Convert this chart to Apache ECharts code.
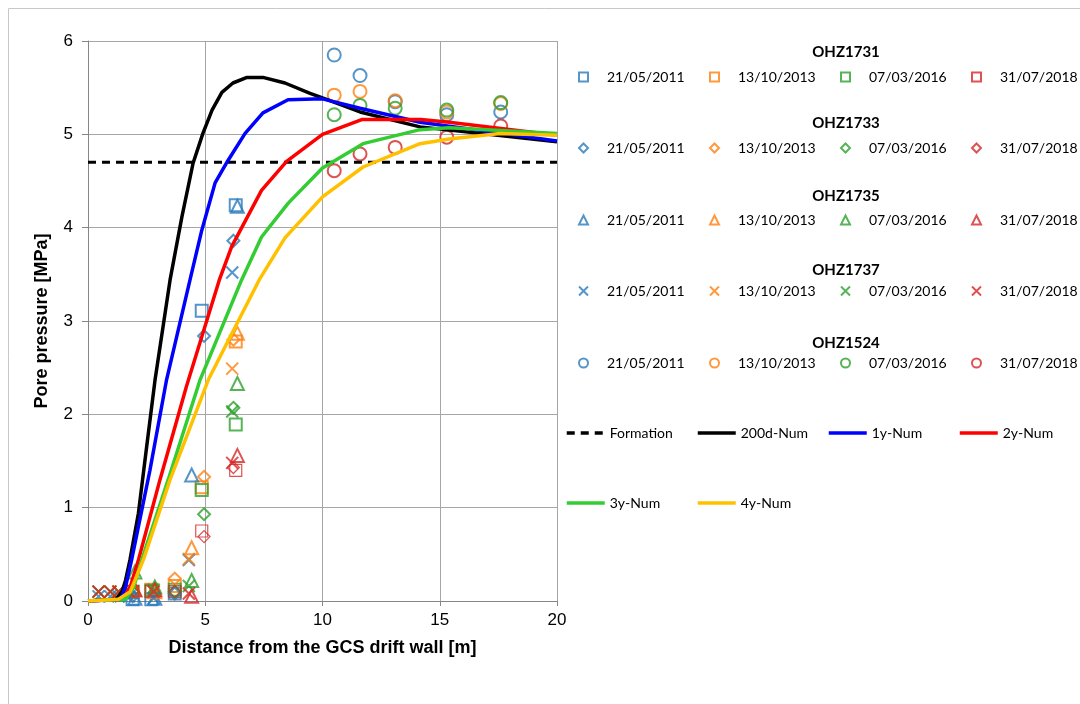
<!DOCTYPE html>
<html>
<head>
<meta charset="utf-8">
<script src="https://cdn.jsdelivr.net/npm/echarts@6/dist/echarts.min.js"></script>
<style>
  html, body { margin: 0; padding: 0; background: #ffffff; }
  #chart { width: 1080px; height: 704px; }
</style>
</head>
<body>
<div id="chart"></div>
<script>
// ---- Measurement dates and boreholes ----
const dates = ['21/05/2011', '13/10/2013', '07/03/2016', '31/07/2018'];
const boreholeNames = ['OHZ1731', 'OHZ1733', 'OHZ1735', 'OHZ1737', 'OHZ1524'];

// ---- OHZ1731 (squares): distance [m] and pore pressure [MPa] per date ----
const ohz1731Dist = [1.9, 2.7, 3.7, 4.85, 6.3];
const ohz1731P2011 = [0.02, 0.02, 0.08, 3.11, 4.24];
const ohz1731P2013 = [0.1, 0.12, 0.16, 1.22, 2.78];
const ohz1731P2016 = [0.1, 0.11, 0.12, 1.19, 1.89];
const ohz1731P2018 = [0.1, 0.1, 0.1, 0.75, 1.4];

// ---- OHZ1733 (diamonds) ----
const ohz1733Dist = [1.9, 3.7, 4.95, 6.2];
const ohz1733P2011 = [0.05, 0.08, 2.84, 3.86];
const ohz1733P2013 = [0.1, 0.24, 1.33, 2.8];
const ohz1733P2016 = [0.1, 0.1, 0.93, 2.07];
const ohz1733P2018 = [0.1, 0.1, 0.69, 1.43];

// ---- OHZ1735 (triangles) ----
const ohz1735Dist = [2.0, 2.85, 4.42, 6.37];
const ohz1735P2011 = [0.03, 0.03, 1.35, 4.23];
const ohz1735P2013 = [0.12, 0.1, 0.57, 2.87];
const ohz1735P2016 = [0.31, 0.15, 0.22, 2.33];
const ohz1735P2018 = [0.12, 0.12, 0.05, 1.56];

// ---- OHZ1737 (crosses) ----
const ohz1737Dist = [0.45, 0.95, 1.3, 1.75, 2.8, 4.3, 6.15];
const ohz1737P2011 = [0.05, 0.05, 0.05, 0.05, 0.03, 0.44, 3.52];
const ohz1737P2013 = [0.1, 0.1, 0.1, 0.1, 0.1, 0.45, 2.49];
const ohz1737P2016 = [0.1, 0.1, 0.1, 0.1, 0.12, 0.16, 2.03];
const ohz1737P2018 = [0.1, 0.1, 0.1, 0.1, 0.1, 0.08, 1.48];

// ---- OHZ1524 (circles) ----
const ohz1524Dist = [10.5, 11.6, 13.1, 15.3, 17.6];
const ohz1524P2011 = [5.85, 5.63, 5.35, 5.21, 5.24];
const ohz1524P2013 = [5.42, 5.46, 5.36, 5.24, 5.33];
const ohz1524P2016 = [5.21, 5.31, 5.28, 5.26, 5.34];
const ohz1524P2018 = [4.61, 4.79, 4.86, 4.97, 5.09];

// ---- Undisturbed formation pressure [MPa] ----
const formationPressure = 4.7;

// ---- Numerical profiles: distance [m] and pore pressure [MPa] ----
const num200dX = [0, 1.2, 1.45, 1.6, 1.79, 2.15, 2.5, 2.86, 3.5, 4.0, 4.48, 4.9, 5.29, 5.71, 6.18, 6.78, 7.46, 8.4, 9.47, 10.0, 11.6, 14.16, 20];
const num200dY = [0, 0.02, 0.1, 0.22, 0.44, 0.94, 1.65, 2.37, 3.44, 4.11, 4.69, 5.01, 5.26, 5.45, 5.55, 5.61, 5.61, 5.55, 5.44, 5.39, 5.24, 5.08, 4.92];
const num1yX = [0, 1.4, 1.6, 1.86, 2.64, 3.35, 4.35, 4.85, 5.42, 5.97, 6.7, 7.46, 8.53, 10.0, 11.6, 14.16, 20];
const num1yY = [0, 0.02, 0.15, 0.44, 1.4, 2.37, 3.44, 3.97, 4.48, 4.72, 5.01, 5.23, 5.37, 5.38, 5.28, 5.13, 4.93];
const num2yX = [0, 1.5, 1.8, 2.15, 3.07, 4.2, 5.6, 6.13, 7.4, 8.47, 10.0, 11.7, 14.2, 15.4, 20];
const num2yY = [0, 0.02, 0.15, 0.44, 1.3, 2.3, 3.44, 3.8, 4.4, 4.71, 5.0, 5.16, 5.16, 5.13, 4.99];
const num3yX = [0, 1.6, 1.95, 2.29, 3.42, 4.78, 6.55, 7.4, 8.53, 10.0, 11.73, 14.16, 15.4, 20];
const num3yY = [0, 0.02, 0.15, 0.44, 1.3, 2.37, 3.44, 3.9, 4.26, 4.64, 4.9, 5.05, 5.07, 5.01];
const num4yX = [0, 1.3, 1.8, 2.36, 3.5, 5.13, 7.3, 8.4, 10.0, 11.73, 14.16, 15.4, 17.57, 20];
const num4yY = [0, 0.02, 0.1, 0.44, 1.3, 2.37, 3.44, 3.89, 4.33, 4.65, 4.9, 4.95, 5.01, 4.99];

// ---- Styling ----
const markerColors = ['#2b7bba', '#ff7f0e', '#2ca02c', '#d62728'];
const labelFont = 'Lato, "Open Sans", sans-serif';
const axisFont = '"Liberation Sans", Arial, sans-serif';
const crossPath = 'path://M0,0L10,10M10,0L0,10';

const boreholes = [
  { name: boreholeNames[0], symbol: 'rect', size: 12, dist: ohz1731Dist, values: [ohz1731P2011, ohz1731P2013, ohz1731P2016, ohz1731P2018] },
  { name: boreholeNames[1], symbol: 'diamond', size: 12, dist: ohz1733Dist, values: [ohz1733P2011, ohz1733P2013, ohz1733P2016, ohz1733P2018] },
  { name: boreholeNames[2], symbol: 'triangle', size: 13, dist: ohz1735Dist, values: [ohz1735P2011, ohz1735P2013, ohz1735P2016, ohz1735P2018] },
  { name: boreholeNames[3], symbol: crossPath, size: 12, dist: ohz1737Dist, values: [ohz1737P2011, ohz1737P2013, ohz1737P2016, ohz1737P2018] },
  { name: boreholeNames[4], symbol: 'circle', size: 13, dist: ohz1524Dist, values: [ohz1524P2011, ohz1524P2013, ohz1524P2016, ohz1524P2018] }
];

const pairs = (xs, ys) => xs.map((x, i) => [x, ys[i]]);

const series = [];
boreholes.forEach((b, bi) => {
  dates.forEach((d, di) => {
    // the 2018 squares and diamonds are drawn with a thinner outline
    const thin = di === 3 && (bi === 0 || bi === 1);
    series.push({
      type: 'scatter',
      name: b.name + ' ' + d,
      data: pairs(b.dist, b.values[di]),
      symbol: b.symbol,
      symbolSize: b.size,
      itemStyle: { color: 'transparent', borderColor: markerColors[di], borderWidth: thin ? 1.2 : 2 },
      emphasis: { disabled: true },
      z: 2
    });
  });
});

const lineDefs = [
  { name: 'Formation', color: '#000000', width: 3, dash: [8, 6], data: [[0, formationPressure], [20, formationPressure]] },
  { name: '200d-Num', color: '#000000', width: 3.5, dash: 'solid', data: pairs(num200dX, num200dY) },
  { name: '1y-Num', color: '#0000ff', width: 3.5, dash: 'solid', data: pairs(num1yX, num1yY) },
  { name: '2y-Num', color: '#ff0000', width: 3.5, dash: 'solid', data: pairs(num2yX, num2yY) },
  { name: '3y-Num', color: '#33cc33', width: 3.5, dash: 'solid', data: pairs(num3yX, num3yY) },
  { name: '4y-Num', color: '#ffc000', width: 3.5, dash: 'solid', data: pairs(num4yX, num4yY) }
];
lineDefs.forEach(l => {
  series.push({
    type: 'line',
    name: l.name,
    data: l.data,
    symbol: 'none',
    showSymbol: false,
    lineStyle: { color: l.color, width: l.width, type: l.dash },
    itemStyle: { color: l.color },
    emphasis: { disabled: true },
    animation: false,
    z: 3
  });
});

// ---- Legend layout: one legend cell per entry on a fixed column pitch ----
const colPitch = 131;
const scatterRowY = [76, 147, 219, 290, 362];
const titleRowY = [52, 123, 196, 270, 343];
const lineCells = [[0, 0], [0, 1], [0, 2], [0, 3], [1, 0], [1, 1]];
const lineRowY = [432, 502];
const cellText = { fontFamily: labelFont, fontSize: 14, color: '#000', padding: [0, 0, 0, 14] };

const legends = [];
boreholes.forEach((b, bi) => {
  dates.forEach((d, di) => {
    const full = b.name + ' ' + d;
    legends.push({
      left: 573 + di * colPitch,
      top: scatterRowY[bi] - 11,
      itemWidth: 9,
      itemHeight: 9,
      selectedMode: false,
      data: [full],
      formatter: () => d,
      textStyle: cellText
    });
  });
});
lineDefs.forEach((l, i) => {
  const [r, c] = lineCells[i];
  legends.push({
    left: 560 + c * colPitch,
    top: lineRowY[r] - 11,
    itemWidth: 38,
    itemHeight: 14,
    selectedMode: false,
    data: [l.name],
    lineStyle: { width: 3.5 },
    itemStyle: { opacity: 0 },
    textStyle: Object.assign({}, cellText, { padding: [0, 0, 0, 0] })
  });
});

const chart = echarts.init(document.getElementById('chart'), null, { renderer: 'canvas' });
chart.setOption({
  animation: false,
  backgroundColor: '#ffffff',
  grid: { left: 88, right: 523, top: 41, bottom: 103, containLabel: false },
  xAxis: {
    type: 'value',
    min: 0, max: 20, interval: 5,
    name: 'Distance from the GCS drift wall [m]',
    nameLocation: 'middle',
    nameGap: 38,
    nameTextStyle: { fontFamily: axisFont, fontSize: 18, fontWeight: 'bold', color: '#000' },
    axisLine: { show: true, onZero: false, lineStyle: { color: '#868686', width: 1 } },
    axisTick: { show: true, inside: false, length: 5, lineStyle: { color: '#868686' } },
    axisLabel: { fontFamily: axisFont, fontSize: 17, color: '#000', margin: 11 },
    splitLine: { show: true, lineStyle: { color: '#a6a6a6', width: 1 } }
  },
  yAxis: {
    type: 'value',
    min: 0, max: 6, interval: 1,
    name: 'Pore pressure [MPa]',
    nameLocation: 'middle',
    nameGap: 37,
    nameRotate: 90,
    nameTextStyle: { fontFamily: axisFont, fontSize: 18, fontWeight: 'bold', color: '#000' },
    axisLine: { show: true, onZero: false, lineStyle: { color: '#868686', width: 1 } },
    axisTick: { show: true, inside: false, length: 6, lineStyle: { color: '#868686' } },
    axisLabel: { fontFamily: axisFont, fontSize: 17, color: '#000', margin: 15 },
    splitLine: { show: true, lineStyle: { color: '#a6a6a6', width: 1 } }
  },
  legend: legends,
  graphic: [
    { type: 'rect', shape: { x: 8.5, y: 8.5, width: 1100, height: 720 }, style: { fill: 'none', stroke: '#c8c8c8', lineWidth: 1 }, silent: true, z: -1 }
  ].concat(boreholeNames.map((n, i) => ({
    type: 'text',
    x: 846,
    y: titleRowY[i],
    style: { text: n, font: 'bold 15px ' + labelFont, fill: '#000', align: 'center', verticalAlign: 'middle' },
    silent: true
  }))),
  series: series
});
</script>
</body>
</html>
